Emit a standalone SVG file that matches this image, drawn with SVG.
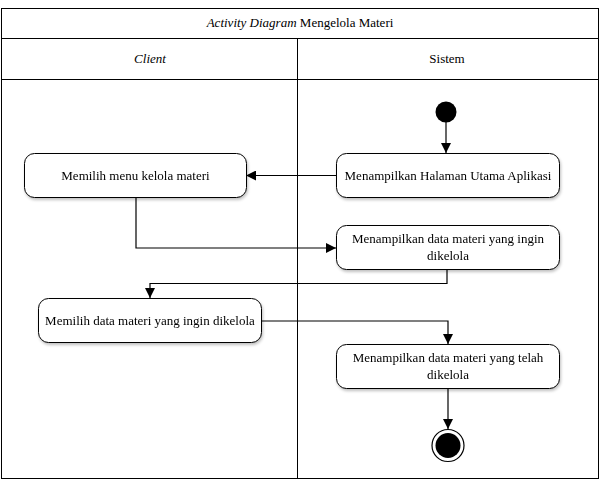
<svg xmlns="http://www.w3.org/2000/svg" width="602" height="480" viewBox="0 0 602 480">
<style>
.frame{fill:none;stroke:#000;stroke-width:1}
.act{fill:#fff;stroke:#000;stroke-width:1}
.t{font-family:"Liberation Serif","Times New Roman",serif;font-size:13px;fill:#000;text-anchor:middle}
.c{fill:none;stroke:#000;stroke-width:1.2}
</style>
<defs>
<marker id="ah" viewBox="0 0 10 10" refX="10" refY="5" markerWidth="10" markerHeight="10" markerUnits="userSpaceOnUse" orient="auto">
<path d="M0,0 L10,5 L0,10 z" fill="#000"/>
</marker>
<filter id="sh" x="-10%" y="-20%" width="130%" height="150%">
<feGaussianBlur in="SourceAlpha" stdDeviation="1.5"/>
<feOffset dx="1" dy="2"/>
<feComponentTransfer><feFuncA type="linear" slope="0.25"/></feComponentTransfer>
<feMerge><feMergeNode/><feMergeNode in="SourceGraphic"/></feMerge>
</filter>
</defs>
<rect width="602" height="480" fill="#fff"/>
<g id="swimlanes">
<rect class="frame" x="1.5" y="8.5" width="597" height="470" fill="#fff"/>
<line class="frame" x1="1.5" y1="38.5" x2="598.5" y2="38.5"/>
<line class="frame" x1="1.5" y1="79.5" x2="598.5" y2="79.5"/>
<line class="frame" x1="297.5" y1="38.5" x2="297.5" y2="478.5"/>
<text class="t" x="300" y="27"><tspan font-style="italic">Activity Diagram</tspan> Mengelola Materi</text>
<text class="t" x="150" y="63" font-style="italic">Client</text>
<text class="t" x="447" y="63">Sistem</text>
</g>
<g id="connectors">
<line class="c" x1="446" y1="118" x2="446" y2="153" marker-end="url(#ah)"/>
<line class="c" x1="336" y1="175.5" x2="246" y2="175.5" marker-end="url(#ah)"/>
<polyline class="c" points="136,197 136,248 336,248" marker-end="url(#ah)"/>
<polyline class="c" points="447,269 447,283.5 150,283.5 150,298" marker-end="url(#ah)"/>
<polyline class="c" points="261,321 448,321 448,344" marker-end="url(#ah)"/>
<line class="c" x1="448" y1="389" x2="448" y2="429" marker-end="url(#ah)"/>
</g>
<g id="start">
<circle cx="446" cy="112" r="10.5" fill="#000"/>
</g>
<g id="act1" filter="url(#sh)">
<rect class="act" x="336.5" y="153.5" width="223" height="44" rx="10"/>
<text class="t" x="448" y="180">Menampilkan Halaman Utama Aplikasi</text>
</g>
<g id="act2" filter="url(#sh)">
<rect class="act" x="24.5" y="153.5" width="222" height="44" rx="10"/>
<text class="t" x="135.5" y="180">Memilih menu kelola materi</text>
</g>
<g id="act3" filter="url(#sh)">
<rect class="act" x="336.5" y="225.5" width="223" height="44" rx="10"/>
<text class="t" x="448" y="243">Menampilkan data materi yang ingin</text>
<text class="t" x="448" y="260">dikelola</text>
</g>
<g id="act4" filter="url(#sh)">
<rect class="act" x="38.5" y="298.5" width="223" height="44" rx="10"/>
<text class="t" x="150" y="325">Memilih data materi yang ingin dikelola</text>
</g>
<g id="act5" filter="url(#sh)">
<rect class="act" x="336.5" y="344.5" width="223" height="44" rx="10"/>
<text class="t" x="448" y="362">Menampilkan data materi yang telah</text>
<text class="t" x="448" y="379">dikelola</text>
</g>
<g id="end">
<circle cx="448" cy="445.5" r="16" fill="#fff" stroke="#000" stroke-width="1.2"/>
<circle cx="448" cy="445.5" r="12.5" fill="#000"/>
</g>
</svg>
